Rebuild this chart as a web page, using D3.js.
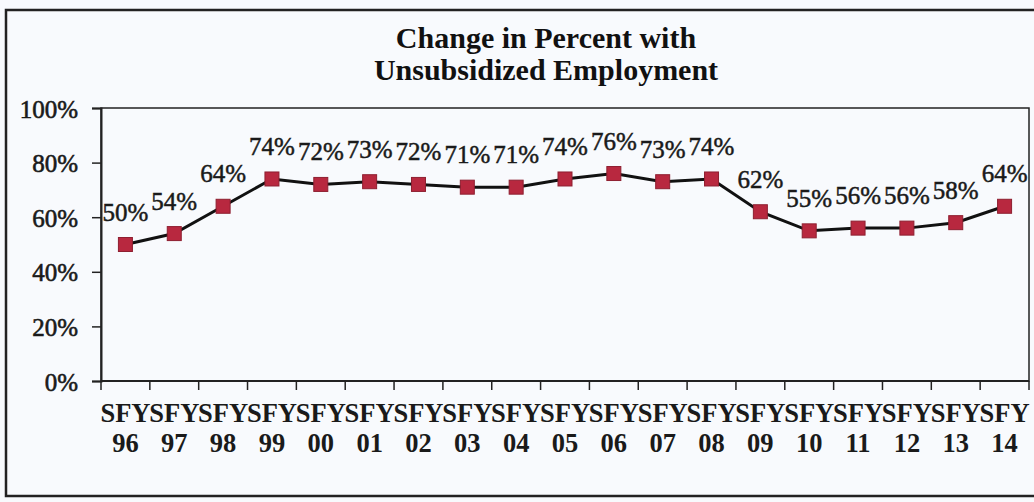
<html>
<head>
    <title>Change in Percent with Unsubsidized Employment</title>
    <style>
        body {
            margin: 0;
            padding: 0;
            background-color: #f8fafd;
        }

        .axis-y text, .value-label {
            font-family: "Liberation Serif", "Times New Roman", serif;
            font-size: 25px;
            fill: #1a1a1a;
        }

        .axis-x text {
            font-family: "Liberation Serif", "Times New Roman", serif;
            font-size: 26.5px;
            font-weight: bold;
            fill: #1a1a1a;
        }

        .title {
            font-family: "Liberation Serif", "Times New Roman", serif;
            font-size: 30px;
            font-weight: bold;
            fill: #111;
        }
    </style>
</head>
<body>
    <div class="chart"></div>
    <script src="https://d3js.org/d3.v7.min.js"></script>
    <script>
// data
const years = ['96', '97', '98', '99', '00', '01', '02', '03', '04', '05',
               '06', '07', '08', '09', '10', '11', '12', '13', '14'];
const percents = [50, 54, 64, 74, 72, 73, 72, 71, 71, 74, 76, 73, 74, 62, 55, 56, 56, 58, 64];
const yTicks = [0, 20, 40, 60, 80, 100];
const titleLines = ['Change in Percent with', 'Unsubsidized Employment'];

const data = years.map((y, i) => ({ year: y, value: percents[i] }));

const W = 1034, H = 502;
const margin = { top: 108, right: 5, bottom: 121, left: 101 };
const width = W - margin.left - margin.right;
const height = H - margin.top - margin.bottom;

const svg = d3.select('.chart')
    .append('svg')
    .attr('width', W)
    .attr('height', H);

// outer frame (right side runs off the page)
svg.append('rect')
    .attr('x', 6).attr('y', 10)
    .attr('width', 1040).attr('height', 486)
    .attr('fill', 'none')
    .attr('stroke', '#222')
    .attr('stroke-width', 2.5);

svg.append('text')
    .attr('class', 'title')
    .attr('text-anchor', 'middle')
    .selectAll('tspan')
    .data(titleLines)
    .enter()
    .append('tspan')
    .attr('x', 546)
    .attr('y', (d, i) => 48 + i * 32)
    .text(d => d);

const g = svg.append('g')
    .attr('transform', `translate(${margin.left},${margin.top})`);

const xScale = d3.scaleBand()
    .domain(years)
    .range([0, width]);

const yScale = d3.scaleLinear()
    .domain([0, 100])
    .range([height, 0]);

// plot area border
g.append('rect')
    .attr('width', width)
    .attr('height', height)
    .attr('fill', 'none')
    .attr('stroke', '#222')
    .attr('stroke-width', 1.5);

// y axis
const yAxis = d3.axisLeft(yScale)
    .tickValues(yTicks)
    .tickFormat(d => d + '%')
    .tickSize(9)
    .tickPadding(14);
const yg = g.append('g')
    .attr('class', 'axis-y')
    .call(yAxis);
yg.select('.domain').attr('stroke', '#222').attr('stroke-width', 2);
yg.selectAll('line').attr('stroke', '#222').attr('stroke-width', 1.5);
yg.selectAll('text').attr('dy', '0.36em').attr('stroke', '#1a1a1a').attr('stroke-width', 0.6);

// x axis: ticks between categories, labels on two lines
const xg = g.append('g')
    .attr('class', 'axis-x')
    .attr('transform', `translate(0,${height})`);
xg.append('line')
    .attr('x1', 0).attr('x2', width)
    .attr('stroke', '#222').attr('stroke-width', 2);
const boundaries = years.map(y => xScale(y)).concat([width]);
xg.selectAll('.tick-line')
    .data(boundaries)
    .enter()
    .append('line')
    .attr('class', 'tick-line')
    .attr('x1', d => d).attr('x2', d => d)
    .attr('y1', 0).attr('y2', 9)
    .attr('stroke', '#222').attr('stroke-width', 1.5);
const xl = xg.selectAll('.xlabel')
    .data(years)
    .enter()
    .append('text')
    .attr('class', 'xlabel')
    .attr('text-anchor', 'middle');
xl.append('tspan')
    .attr('x', d => xScale(d) + xScale.bandwidth() / 2)
    .attr('y', 41)
    .text('SFY');
xl.append('tspan')
    .attr('x', d => xScale(d) + xScale.bandwidth() / 2)
    .attr('y', 71)
    .text(d => d);

// line
const line = d3.line()
    .x(d => xScale(d.year) + xScale.bandwidth() / 2)
    .y(d => yScale(d.value));
g.append('path')
    .datum(data)
    .attr('d', line)
    .attr('fill', 'none')
    .attr('stroke', '#111')
    .attr('stroke-width', 3);

// markers
const ms = 14;
g.selectAll('.marker')
    .data(data)
    .enter()
    .append('rect')
    .attr('class', 'marker')
    .attr('x', d => xScale(d.year) + xScale.bandwidth() / 2 - ms / 2)
    .attr('y', d => yScale(d.value) - ms / 2)
    .attr('width', ms)
    .attr('height', ms)
    .attr('fill', '#b8283f')
    .attr('stroke', '#8e1f30')
    .attr('stroke-width', 1);

// value labels
g.selectAll('.value-label')
    .data(data)
    .enter()
    .append('text')
    .attr('class', 'value-label')
    .attr('text-anchor', 'middle')
    .attr('x', d => xScale(d.year) + xScale.bandwidth() / 2)
    .attr('y', d => yScale(d.value) - 24)
    .attr('stroke', '#1a1a1a')
    .attr('stroke-width', 0.5)
    .text(d => d.value + '%');
    </script>
</body>
</html>
